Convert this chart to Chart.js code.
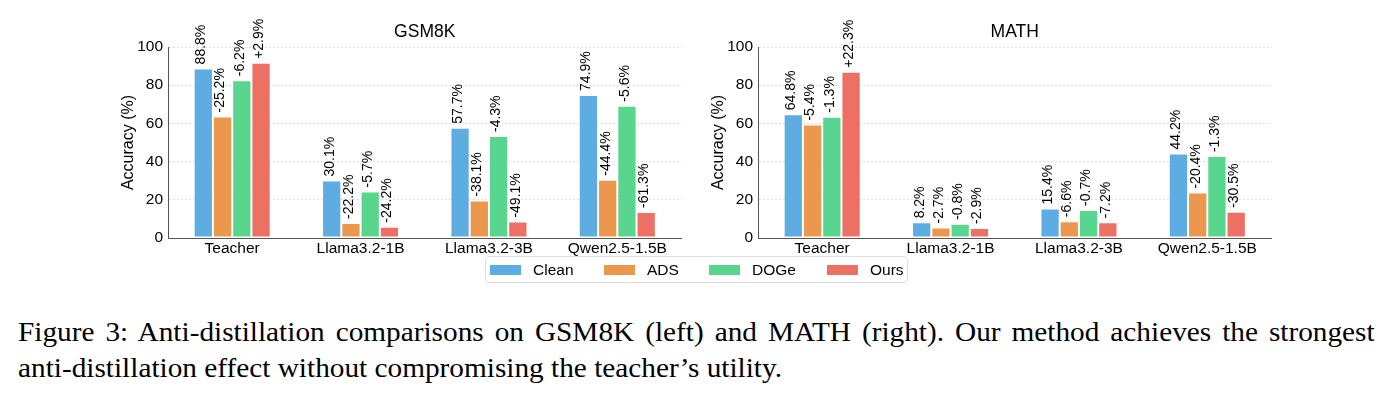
<!DOCTYPE html>
<html><head><meta charset="utf-8">
<script src="https://cdn.jsdelivr.net/npm/chart.js@4.4.0/dist/chart.umd.min.js"></script>
<style>
html,body{margin:0;padding:0;background:#fff;width:1392px;height:400px;overflow:hidden;position:relative;}
canvas{position:absolute;top:0;}
#c1{left:100px;}
#c2{left:690px;}
.legend{position:absolute;left:485px;top:256px;width:423px;height:27px;border:1px solid #ddd;border-radius:4px;box-sizing:border-box;background:#fff;font-family:"Liberation Sans",Arial,sans-serif;font-size:15.5px;color:#000;}
.item{position:absolute;top:0;height:25px;display:flex;align-items:center;white-space:nowrap;}
.sw{width:31px;height:10px;margin-right:12px;}
.cap{position:absolute;left:18px;font-family:"Liberation Serif","Times New Roman",serif;font-size:28px;line-height:28px;color:#000;transform:scaleX(1.046);transform-origin:0 0;}
#l1{top:318px;width:1297px;text-align:justify;text-align-last:justify;}
#l2{top:354px;white-space:nowrap;}
</style></head>
<body>
<canvas id="c1" width="590" height="260"></canvas>
<canvas id="c2" width="590" height="260"></canvas>
<div class="legend" id="legend"></div>
<div class="cap" id="l1">Figure 3: Anti-distillation comparisons on GSM8K (left) and MATH (right). Our method achieves the strongest</div>
<div class="cap" id="l2">anti-distillation effect without compromising the teacher’s utility.</div>
<script>
// ---- data ----
const categories = ['Teacher', 'Llama3.2-1B', 'Llama3.2-3B', 'Qwen2.5-1.5B'];
const seriesNames = ['Clean', 'ADS', 'DOGe', 'Ours'];
const seriesColors = ['#5DADE2', '#EB984E', '#58D68D', '#EC7063'];
const yTicks = [0, 20, 40, 60, 80, 100];

const gsmClean = [88.8, 30.1, 57.7, 74.9];
const gsmADS   = [63.6, 7.9, 19.6, 30.5];
const gsmDOGe  = [82.6, 24.4, 53.4, 69.3];
const gsmOurs  = [91.7, 5.9, 8.6, 13.6];
const gsmCleanLbl = ['88.8%', '30.1%', '57.7%', '74.9%'];
const gsmADSLbl   = ['-25.2%', '-22.2%', '-38.1%', '-44.4%'];
const gsmDOGeLbl  = ['-6.2%', '-5.7%', '-4.3%', '-5.6%'];
const gsmOursLbl  = ['+2.9%', '-24.2%', '-49.1%', '-61.3%'];

const mathClean = [64.8, 8.2, 15.4, 44.2];
const mathADS   = [59.4, 5.5, 8.8, 23.8];
const mathDOGe  = [63.5, 7.4, 14.7, 42.9];
const mathOurs  = [87.1, 5.3, 8.2, 13.7];
const mathCleanLbl = ['64.8%', '8.2%', '15.4%', '44.2%'];
const mathADSLbl   = ['-5.4%', '-2.7%', '-6.6%', '-20.4%'];
const mathDOGeLbl  = ['-1.3%', '-0.8%', '-0.7%', '-1.3%'];
const mathOursLbl  = ['+22.3%', '-2.9%', '-7.2%', '-30.5%'];

const SANS = '"Liberation Sans", Arial, Helvetica, sans-serif';

const barLabels = {
  id: 'barLabels',
  afterDatasetsDraw(chart, args, opts) {
    const ctx = chart.ctx;
    ctx.save();
    ctx.font = '14px ' + SANS;
    ctx.fillStyle = '#000';
    ctx.textAlign = 'left';
    ctx.textBaseline = 'middle';
    chart.data.datasets.forEach((ds, i) => {
      const meta = chart.getDatasetMeta(i);
      const texts = opts.texts[i];
      meta.data.forEach((bar, j) => {
        ctx.save();
        ctx.translate(bar.x - 2, bar.y - 4);
        ctx.rotate(-Math.PI / 2);
        ctx.fillText(texts[j], 0, 0);
        ctx.restore();
      });
    });
    // panel title centred over the plot area
    const ca = chart.chartArea;
    ctx.font = '17.5px ' + SANS;
    ctx.textAlign = 'center';
    ctx.textBaseline = 'middle';
    ctx.fillText(opts.title, (ca.left + ca.right) / 2, 32.5);
    ctx.restore();
  }
};

function makeChart(id, title, series, texts) {
  const datasets = series.map((vals, i) => ({
    label: seriesNames[i],
    data: vals,
    backgroundColor: seriesColors[i],
    borderColor: 'rgba(255,255,255,0.45)',
    borderWidth: 1,
    borderSkipped: false,
    barPercentage: 1.0,
    categoryPercentage: 0.6
  }));
  return new Chart(document.getElementById(id), {
    type: 'bar',
    data: { labels: categories, datasets },
    plugins: [barLabels],
    options: {
      responsive: false,
      animation: false,
      devicePixelRatio: 1,
      layout: { padding: { left: 0, right: 8.5, top: 47, bottom: 0 } },
      plugins: {
        legend: { display: false },
        tooltip: { enabled: false },
        title: { display: false },
        barLabels: { texts, title }
      },
      scales: {
        x: {
          offset: true,
          grid: { display: false, drawTicks: false },
          border: { display: true, color: '#555', width: 1 },
          ticks: { color: '#000', font: { family: SANS, size: 15.5 }, padding: 1, maxRotation: 0, autoSkip: false },
          afterFit: (s) => { s.height = 22; }
        },
        y: {
          min: 0, max: 100,
          afterBuildTicks: (s) => { s.ticks = yTicks.map(v => ({ value: v })); },
          grid: { color: '#d6d6d6', lineWidth: 0.8, drawTicks: false },
          border: { display: true, color: '#555', width: 1, dash: [2, 2] },
          ticks: { color: '#000', font: { family: SANS, size: 15.5 }, padding: 5 },
          title: {
            display: true, text: 'Accuracy (%)', color: '#000',
            font: { family: SANS, size: 16 },
            padding: { top: 18.7, bottom: 0 }
          },
          afterFit: (s) => { s.width = 68; }
        }
      }
    }
  });
}

makeChart('c1', 'GSM8K', [gsmClean, gsmADS, gsmDOGe, gsmOurs],
  [gsmCleanLbl, gsmADSLbl, gsmDOGeLbl, gsmOursLbl]);
makeChart('c2', 'MATH', [mathClean, mathADS, mathDOGe, mathOurs],
  [mathCleanLbl, mathADSLbl, mathDOGeLbl, mathOursLbl]);

// legend
const legendX = [4, 118, 223, 341];
const lg = document.getElementById('legend');
seriesNames.forEach((n, i) => {
  const it = document.createElement('div');
  it.className = 'item';
  it.style.left = legendX[i] + 'px';
  it.innerHTML = '<span class="sw" style="background:' + seriesColors[i] + '"></span><span>' + n + '</span>';
  lg.appendChild(it);
});
</script>
</body></html>
